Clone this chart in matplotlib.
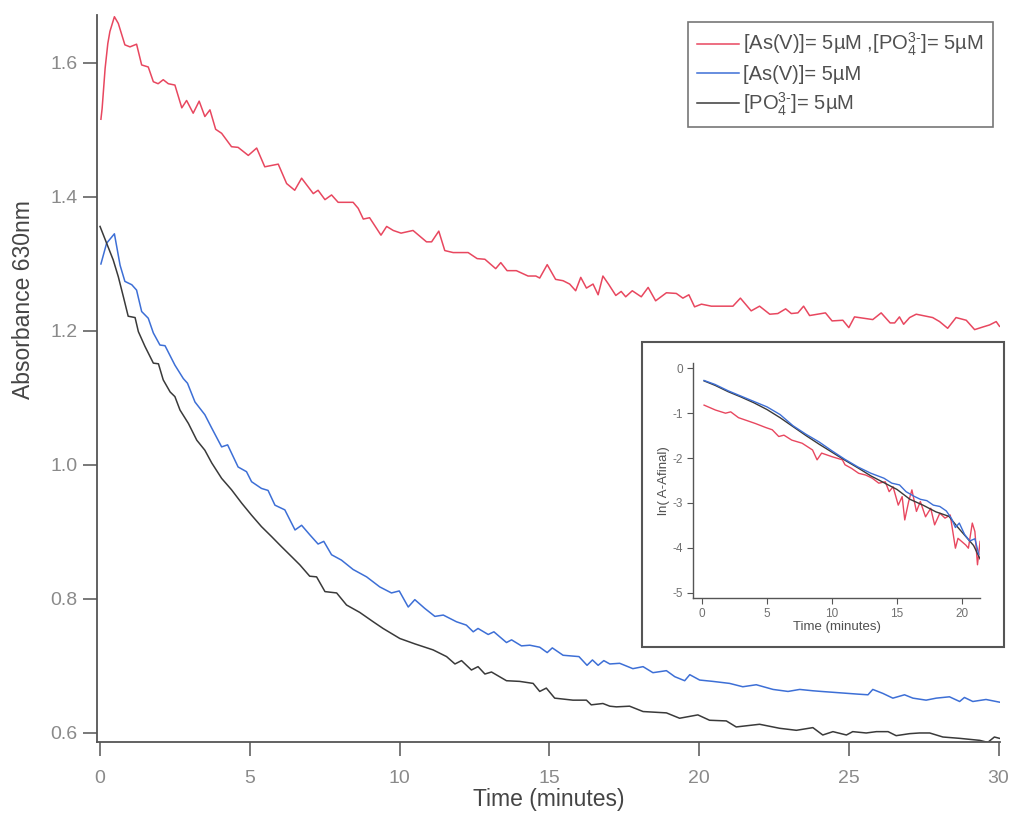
import matplotlib
matplotlib.use("Agg")
import matplotlib.pyplot as plt
from matplotlib.patches import Rectangle

plt.rcParams["font.family"] = ["Liberation Sans", "DejaVu Sans"]
plt.rcParams["mathtext.fontset"] = "custom"
plt.rcParams["mathtext.rm"] = "Liberation Sans"
plt.rcParams["mathtext.it"] = "Liberation Sans"
plt.rcParams["axes.unicode_minus"] = False

# --- main panel data (time in minutes, absorbance at 630 nm) ---
red_t = [0.03, 0.07, 0.17, 0.26, 0.33, 0.48, 0.61, 0.83, 1.0, 1.22, 1.39, 1.61, 1.78,
         1.94, 2.11, 2.28, 2.5, 2.73, 2.89, 3.11, 3.31, 3.5, 3.67, 3.86, 4.06, 4.39,
         4.61, 4.95, 5.23, 5.5, 5.95, 6.23, 6.5, 6.73, 7.12, 7.28, 7.51, 7.73, 7.95,
         8.45, 8.62, 8.79, 9.0, 9.38, 9.57, 9.79, 10.05, 10.45, 10.9, 11.07, 11.31,
         11.51, 11.79, 12.29, 12.59, 12.85, 13.21, 13.38, 13.59, 13.9, 14.29, 14.55,
         14.68, 14.93, 15.21, 15.46, 15.68, 15.88, 16.05, 16.24, 16.46, 16.63, 16.79,
         16.99, 17.22, 17.4, 17.55, 17.77, 18.07, 18.3, 18.55, 18.91, 19.24, 19.46,
         19.66, 19.85, 20.08, 20.41, 21.13, 21.38, 21.74, 22.02, 22.36, 22.63, 22.89,
         23.08, 23.3, 23.49, 23.69, 24.22, 24.44, 24.8, 25.0, 25.19, 25.8, 26.08,
         26.38, 26.53, 26.69, 26.83, 27.03, 27.25, 27.8, 28.03, 28.3, 28.58, 28.92,
         29.2, 29.48, 29.7, 29.92, 30.03]
red_a = [1.516, 1.532, 1.592, 1.629, 1.647, 1.669, 1.659, 1.627, 1.624, 1.628, 1.597,
         1.594, 1.572, 1.569, 1.575, 1.569, 1.567, 1.533, 1.544, 1.525, 1.543, 1.520,
         1.530, 1.501, 1.495, 1.475, 1.474, 1.462, 1.473, 1.445, 1.449, 1.420, 1.410,
         1.428, 1.405, 1.410, 1.396, 1.403, 1.392, 1.392, 1.383, 1.367, 1.369, 1.343,
         1.356, 1.350, 1.346, 1.350, 1.333, 1.333, 1.349, 1.320, 1.317, 1.317, 1.308,
         1.307, 1.293, 1.302, 1.290, 1.290, 1.282, 1.282, 1.279, 1.299, 1.277, 1.275,
         1.270, 1.260, 1.280, 1.264, 1.270, 1.254, 1.282, 1.269, 1.253, 1.259, 1.251,
         1.260, 1.251, 1.265, 1.245, 1.257, 1.256, 1.249, 1.254, 1.236, 1.240, 1.237,
         1.237, 1.249, 1.230, 1.237, 1.225, 1.226, 1.233, 1.226, 1.227, 1.237, 1.223,
         1.227, 1.215, 1.216, 1.205, 1.221, 1.217, 1.227, 1.212, 1.212, 1.221, 1.210,
         1.220, 1.225, 1.220, 1.214, 1.204, 1.220, 1.216, 1.202, 1.206, 1.209, 1.214,
         1.207]

blue_t = [0.03, 0.22, 0.48, 0.67, 0.83, 1.06, 1.22, 1.39, 1.61, 1.78, 2.0, 2.17, 2.5,
          2.78, 2.92, 3.17, 3.5, 3.73, 4.06, 4.26, 4.61, 4.89, 5.06, 5.39, 5.61, 5.84,
          6.17, 6.51, 6.73, 7.0, 7.28, 7.47, 7.73, 8.06, 8.45, 8.9, 9.34, 9.73, 9.99,
          10.29, 10.51, 10.84, 11.18, 11.46, 11.9, 12.23, 12.46, 12.62, 12.96, 13.15,
          13.57, 13.74, 14.07, 14.35, 14.68, 14.93, 15.1, 15.46, 15.99, 16.26, 16.44,
          16.63, 16.82, 17.02, 17.35, 17.79, 18.13, 18.46, 18.91, 19.19, 19.52, 19.69,
          20.02, 20.46, 21.02, 21.46, 21.91, 22.47, 22.97, 23.36, 23.8, 24.08, 24.69,
          25.3, 25.64, 25.8, 26.14, 26.47, 26.86, 27.14, 27.58, 27.92, 28.36, 28.7,
          28.86, 29.14, 29.58, 30.03]
blue_a = [1.300, 1.331, 1.345, 1.298, 1.274, 1.269, 1.261, 1.229, 1.219, 1.197, 1.179,
          1.178, 1.149, 1.129, 1.122, 1.094, 1.075, 1.055, 1.027, 1.030, 0.997, 0.990,
          0.975, 0.965, 0.962, 0.940, 0.933, 0.903, 0.910, 0.896, 0.882, 0.886, 0.866,
          0.858, 0.844, 0.833, 0.818, 0.809, 0.812, 0.788, 0.799, 0.786, 0.774, 0.776,
          0.766, 0.761, 0.751, 0.756, 0.747, 0.751, 0.735, 0.739, 0.730, 0.731, 0.728,
          0.720, 0.727, 0.716, 0.714, 0.701, 0.709, 0.701, 0.708, 0.703, 0.704, 0.696,
          0.699, 0.690, 0.693, 0.684, 0.678, 0.687, 0.679, 0.677, 0.674, 0.669, 0.672,
          0.665, 0.662, 0.665, 0.663, 0.662, 0.660, 0.658, 0.657, 0.665, 0.659, 0.652,
          0.657, 0.652, 0.649, 0.652, 0.654, 0.647, 0.653, 0.647, 0.650, 0.646]

black_t = [0.0, 0.22, 0.44, 0.61, 0.78, 0.94, 1.17, 1.28, 1.5, 1.78, 1.95, 2.11, 2.34,
           2.5, 2.67, 2.95, 3.23, 3.5, 3.73, 4.06, 4.39, 4.73, 5.06, 5.39, 5.73, 6.06,
           6.4, 6.67, 7.0, 7.23, 7.51, 7.9, 8.23, 8.67, 9.12, 9.45, 10.01, 10.51, 11.12,
           11.57, 11.85, 12.07, 12.4, 12.62, 12.85, 13.07, 13.57, 14.01, 14.46, 14.68,
           14.9, 15.18, 15.79, 16.24, 16.4, 16.79, 17.02, 17.24, 17.68, 18.13, 18.91,
           19.35, 19.96, 20.35, 20.91, 21.24, 22.02, 22.69, 23.25, 23.8, 24.13, 24.47,
           24.92, 25.13, 25.58, 25.92, 26.31, 26.58, 27.03, 27.36, 27.7, 28.14, 28.7,
           29.37, 29.64, 29.86, 30.03]
black_a = [1.356, 1.331, 1.306, 1.281, 1.251, 1.222, 1.220, 1.199, 1.177, 1.152, 1.151,
           1.127, 1.109, 1.102, 1.082, 1.062, 1.037, 1.022, 1.003, 0.980, 0.963, 0.943,
           0.925, 0.908, 0.893, 0.878, 0.863, 0.851, 0.834, 0.833, 0.811, 0.809, 0.791,
           0.780, 0.766, 0.756, 0.741, 0.733, 0.724, 0.714, 0.703, 0.708, 0.694, 0.699,
           0.688, 0.691, 0.678, 0.677, 0.674, 0.662, 0.667, 0.652, 0.649, 0.649, 0.642,
           0.644, 0.640, 0.639, 0.640, 0.632, 0.630, 0.622, 0.627, 0.619, 0.618, 0.609,
           0.613, 0.607, 0.604, 0.608, 0.597, 0.602, 0.597, 0.602, 0.600, 0.602, 0.602,
           0.596, 0.599, 0.600, 0.600, 0.594, 0.592, 0.589, 0.586, 0.594, 0.592]

# --- inset data: ln(A - Afinal) vs time ---
in_red_t = [0.15, 1.03, 1.8, 2.2, 2.8, 3.3, 4.1, 4.9, 5.4, 5.9, 6.3, 6.9, 7.7, 8.5, 8.85,
            9.2, 10.0, 10.8, 11.0, 11.5, 12.05, 12.6, 13.1, 13.6, 14.1, 14.4, 14.7, 15.1,
            15.4, 15.6, 15.9, 16.15, 16.5, 16.8, 17.2, 17.6, 17.9, 18.3, 18.7, 19.1,
            19.5, 19.7, 20.3, 20.5, 20.8, 21.0, 21.2, 21.4]
in_red_v = [-0.82, -0.93, -1.00, -0.97, -1.10, -1.15, -1.23, -1.32, -1.37, -1.52, -1.49,
            -1.60, -1.67, -1.82, -2.04, -1.89, -1.97, -2.04, -2.15, -2.23, -2.34, -2.38,
            -2.45, -2.56, -2.53, -2.75, -2.64, -3.05, -2.86, -3.38, -2.97, -2.71, -3.19,
            -2.97, -3.31, -3.12, -3.49, -3.23, -3.34, -3.27, -4.01, -3.79, -3.94, -4.01,
            -3.45, -3.64, -4.38, -3.86]
in_blue_t = [0.15, 1, 2, 3, 4, 5, 6, 7, 8, 9, 10, 11, 12, 13, 14, 14.6, 15.2, 15.7, 16.3,
             16.8, 17.3, 17.8, 18.3, 18.8, 19.2, 19.5, 19.8, 20.2, 20.6, 21.0, 21.3]
in_blue_v = [-0.27, -0.36, -0.50, -0.62, -0.74, -0.86, -1.03, -1.28, -1.47, -1.64, -1.84,
             -2.03, -2.20, -2.34, -2.45, -2.56, -2.60, -2.75, -2.85, -2.92, -2.95, -3.05,
             -3.08, -3.18, -3.35, -3.55, -3.45, -3.70, -3.85, -3.80, -4.15]
in_black_t = [0.15, 1, 2, 3, 4, 5, 6, 7, 8, 9, 10, 11, 12, 13, 14, 15, 16, 17, 18, 19,
              19.7, 20.3, 20.9, 21.4]
in_black_v = [-0.28, -0.38, -0.52, -0.64, -0.77, -0.92, -1.10, -1.30, -1.50, -1.69, -1.87,
              -2.05, -2.22, -2.40, -2.55, -2.70, -2.92, -3.05, -3.20, -3.30, -3.55, -3.75,
              -3.95, -4.25]

labels = [r"[As(V)]= 5µM ,[PO$_4^{3\text{-}}$]= 5µM",
          "[As(V)]= 5µM",
          r"[PO$_4^{3\text{-}}$]= 5µM"]

RED = "#e8475f"
BLUE = "#3d6fd6"
BLACK = "#3a3a3a"
SPINE = "#555555"
TICKTXT = "#8a8a8a"
LABEL = "#454545"

fig = plt.figure(figsize=(10.15, 8.14), dpi=100)
ax = fig.add_axes([0.0956, 0.0885, 0.8897, 0.8931])

ax.plot(red_t, red_a, color=RED, lw=1.1, label=labels[0])
ax.plot(blue_t, blue_a, color=BLUE, lw=1.1, label=labels[1])
ax.plot(black_t, black_a, color=BLACK, lw=1.1, label=labels[2])

ax.set_xlim(-0.1, 30.05)
ax.set_ylim(0.5866, 1.6716)
ax.set_xticks([0, 5, 10, 15, 20, 25, 30])
ax.set_yticks([0.6, 0.8, 1.0, 1.2, 1.4, 1.6])
ax.set_yticklabels(["0.6", "0.8", "1.0", "1.2", "1.4", "1.6"])
for side in ["top", "right"]:
    ax.spines[side].set_visible(False)
for side in ["left", "bottom"]:
    ax.spines[side].set_color(SPINE)
    ax.spines[side].set_linewidth(1.3)
ax.tick_params(axis="both", direction="out", length=10, width=1.1, color=SPINE,
               labelcolor=TICKTXT, labelsize=14)
ax.tick_params(axis="x", pad=10)
ax.tick_params(axis="y", pad=4)
ax.set_xlabel("Time (minutes)", fontsize=16.5, color=LABEL, labelpad=1)
ax.set_ylabel("Absorbance 630nm", fontsize=16.5, color=LABEL)
ax.yaxis.set_label_coords(-0.069, 0.608)

leg = ax.legend(loc="upper right", bbox_to_anchor=(0.978, 0.973),
                bbox_transform=fig.transFigure, fontsize=14.5, frameon=True,
                fancybox=False, edgecolor=SPINE, handlelength=2.1,
                handletextpad=0.2, borderaxespad=0, labelspacing=0.33,
                borderpad=0.45)
leg.get_frame().set_linewidth(1.2)
for txt in leg.get_texts():
    txt.set_color("#505050")

# inset frame and axes
fig.patches.append(Rectangle((0.6325, 0.2052), 0.3567, 0.3747, transform=fig.transFigure,
                             fill=False, edgecolor=SPINE, linewidth=1.5))
ins = fig.add_axes([0.6828, 0.2654, 0.2828, 0.2887])
ins.plot(in_red_t, in_red_v, color=RED, lw=1.0)
ins.plot(in_black_t, in_black_v, color=BLACK, lw=1.0)
ins.plot(in_blue_t, in_blue_v, color=BLUE, lw=1.0)
ins.set_xlim(-0.7, 21.4)
ins.set_ylim(-5.12, 0.12)
ins.set_xticks([0, 5, 10, 15, 20])
ins.set_yticks([0, -1, -2, -3, -4, -5])
for side in ["top", "right"]:
    ins.spines[side].set_visible(False)
for side in ["left", "bottom"]:
    ins.spines[side].set_color(SPINE)
    ins.spines[side].set_linewidth(1.0)
ins.tick_params(axis="both", direction="out", length=4, width=0.8, color=SPINE,
                labelcolor="#707070", labelsize=8.5, pad=3)
ins.set_xlabel("Time (minutes)", fontsize=9.5, color="#505050", labelpad=1)
ins.set_ylabel("ln( A-Afinal)", fontsize=9.5, color="#505050", labelpad=2)

fig.savefig("out.png", dpi=100, facecolor="white")
